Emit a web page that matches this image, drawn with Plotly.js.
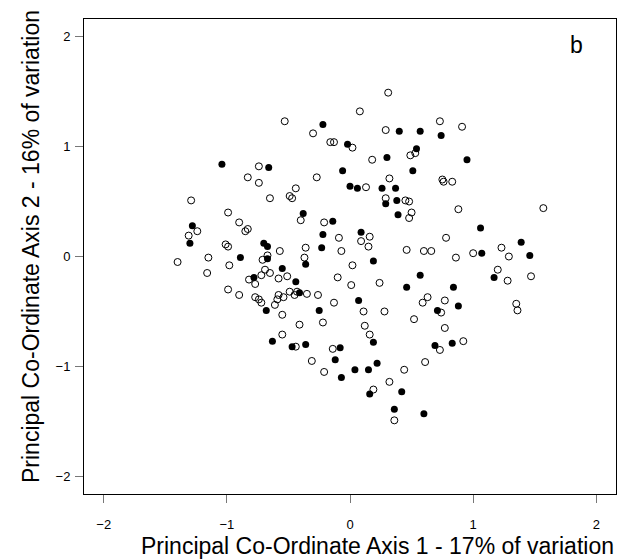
<!DOCTYPE html>
<html>
<head>
<meta charset="utf-8">
<script src="https://cdn.plot.ly/plotly-3.0.1.min.js"></script>
<style>html,body{margin:0;padding:0;background:#fff;}#chart{width:617px;height:560px;}</style>
</head>
<body>
<div id="chart"></div>
<script>
// Group shown with open circles
const openX = [-0.53,-0.74,-0.83,-0.74,-0.44,-0.49,-0.47,-0.65,-1.29,-0.99,-0.90,-0.83,-0.85,-0.40,-1.24,-1.31,-1.01,-0.99,-0.57,-1.15,
  -0.71,-0.67,-1.40,-0.98,-1.16,-0.69,-0.65,-0.72,-0.51,-0.58,-0.82,-0.77,-0.99,-0.90,-0.49,-0.43,-0.45,-0.58,-0.54,-0.59,
  -0.61,-0.77,-0.74,-0.72,-0.55,-0.41,-0.55,-0.44,0.31,0.08,-0.30,0.29,0.73,-0.16,-0.13,0.02,0.18,0.49,0.53,-0.27,
  0.32,0.75,0.76,0.83,0.13,0.91,0.29,0.45,0.48,0.50,0.48,-0.21,-0.09,0.09,0.16,0.15,-0.36,-0.07,0.46,0.60,
  0.66,0.78,-0.37,0.02,-0.10,0.01,0.24,-0.35,-0.26,-0.13,0.63,0.59,0.77,0.11,0.28,0.74,-0.22,0.12,0.52,0.77,
  0.16,-0.14,0.73,-0.31,0.61,-0.21,0.44,0.32,0.19,0.36,0.88,1.57,1.23,1.00,1.29,0.86,1.20,1.28,1.47,1.35,
  1.36,0.92];
const openY = [1.23,0.82,0.72,0.67,0.62,0.55,0.53,0.53,0.51,0.40,0.31,0.25,0.23,0.33,0.23,0.19,0.11,0.09,0.05,-0.01,
  -0.03,0.01,-0.05,-0.08,-0.15,-0.12,-0.15,-0.17,-0.18,-0.20,-0.21,-0.25,-0.30,-0.35,-0.32,-0.32,-0.35,-0.35,-0.37,-0.39,
  -0.44,-0.37,-0.39,-0.42,-0.53,-0.62,-0.71,-0.82,1.49,1.32,1.12,1.15,1.23,1.04,1.04,0.99,0.88,0.92,0.94,0.72,
  0.71,0.70,0.68,0.68,0.63,1.18,0.53,0.51,0.50,0.40,0.35,0.31,0.17,0.14,0.18,0.09,0.08,0.05,0.06,0.05,
  0.05,0.17,-0.01,-0.08,-0.19,-0.26,-0.24,-0.34,-0.35,-0.42,-0.37,-0.42,-0.40,-0.50,-0.50,-0.51,-0.60,-0.63,-0.57,-0.65,
  -0.71,-0.84,-0.85,-0.95,-0.96,-1.05,-1.03,-1.14,-1.21,-1.49,0.43,0.44,0.08,0.03,0.00,-0.01,-0.12,-0.22,-0.18,-0.43,
  -0.49,-0.77];
// Group shown with filled circles
const filledX = [-1.04,-0.66,-1.28,-1.30,-0.70,-0.67,-0.89,-0.67,-0.55,-0.78,-0.44,-0.68,-0.63,-0.47,-0.22,0.40,0.57,0.74,-0.02,0.30,
  0.54,-0.06,0.51,0.00,0.06,0.26,0.37,0.95,0.29,0.38,0.39,-0.38,-0.14,-0.22,0.09,-0.23,-0.36,0.19,0.57,0.46,
  -0.41,0.07,-0.25,0.71,0.19,-0.36,-0.08,0.69,-0.12,0.22,0.04,0.15,-0.07,0.16,0.42,0.36,0.60,1.06,1.39,1.07,
  1.46,1.17,0.84,0.88,0.83];
const filledY = [0.84,0.81,0.28,0.12,0.12,0.09,-0.01,-0.02,-0.11,-0.19,-0.23,-0.49,-0.77,-0.82,1.20,1.14,1.14,1.10,1.02,0.90,
  0.98,0.78,0.78,0.64,0.62,0.62,0.62,0.88,0.48,0.51,0.38,0.39,0.32,0.20,0.22,0.08,-0.07,-0.04,-0.17,-0.28,
  -0.33,-0.40,-0.49,-0.49,-0.78,-0.80,-0.83,-0.81,-0.94,-0.97,-1.03,-1.03,-1.10,-1.25,-1.23,-1.39,-1.43,0.26,0.13,0.03,
  0.01,-0.19,-0.28,-0.45,-0.79];
const tickVals = [-2,-1,0,1,2];
const xTitle = 'Principal Co-Ordinate Axis 1 - 17% of variation';
const yTitle = 'Principal Co-Ordinate Axis 2 - 16% of variation';
const panelLabel = 'b';

const FONT = 'Liberation Sans, Arial, Helvetica, sans-serif';
const traces = [
  {x: openX, y: openY, type: 'scatter', mode: 'markers', name: 'open',
   marker: {symbol: 'circle-open', size: 7, color: '#000', line: {width: 1, color: '#000'}}},
  {x: filledX, y: filledY, type: 'scatter', mode: 'markers', name: 'filled',
   marker: {symbol: 'circle', size: 7, color: '#000', line: {width: 0}}}
];
const axisCommon = {
  range: [-2.16, 2.16], tickvals: tickVals, ticktext: tickVals.map(v => v < 0 ? '\u2212' + Math.abs(v) : String(v)),
  showgrid: false, zeroline: false, showline: true, mirror: true, linecolor: '#000', linewidth: 1,
  ticks: 'outside', ticklen: 8, tickwidth: 1, tickcolor: '#777',
  tickfont: {family: FONT, size: 13, color: '#000'}
};
const layout = {
  width: 617, height: 560,
  margin: {l: 84, r: 1, t: 19, b: 66, pad: 0},
  paper_bgcolor: '#fff', plot_bgcolor: '#fff',
  showlegend: false,
  xaxis: Object.assign({}, axisCommon, {ticklabelstandoff: 10}),
  yaxis: Object.assign({}, axisCommon, {ticklabelstandoff: 2}),
  annotations: [
    {text: xTitle, xref: 'paper', yref: 'paper', x: 1.0, y: -0.11, xanchor: 'right', yanchor: 'middle',
     showarrow: false, font: {family: FONT, size: 23, color: '#000'}},
    {text: yTitle, xref: 'paper', yref: 'paper', x: -0.0996, y: 0.52, xanchor: 'center', yanchor: 'middle',
     textangle: -90, showarrow: false, font: {family: FONT, size: 23, color: '#000'}},
    {text: panelLabel, xref: 'paper', yref: 'paper', x: 0.925, y: 0.945, xanchor: 'center', yanchor: 'middle',
     showarrow: false, font: {family: FONT, size: 23, color: '#000'}}
  ]
};
Plotly.newPlot('chart', traces, layout, {displayModeBar: false, staticPlot: true});
</script>
</body>
</html>
